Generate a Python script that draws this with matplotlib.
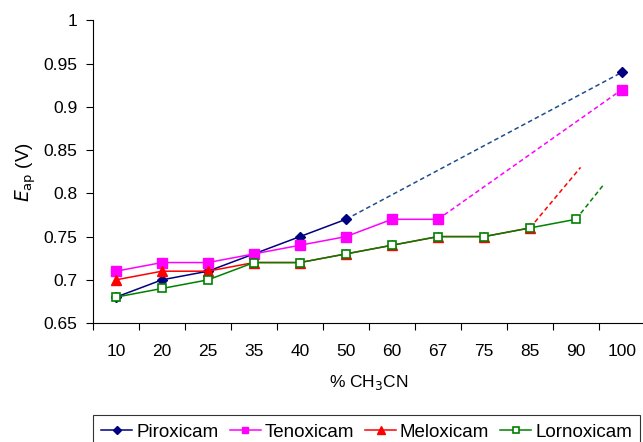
import matplotlib
matplotlib.use('Agg')
import matplotlib.pyplot as plt

plt.rcParams['font.family'] = ['Liberation Sans', 'DejaVu Sans']

# ── Data ──────────────────────────────────────────────────────────────────────
categories = ['10', '20', '25', '35', '40', '50', '60', '67', '75', '85', '90', '100']

piroxicam = [0.68, 0.70, 0.71, 0.73, 0.75, 0.77]
tenoxicam = [0.71, 0.72, 0.72, 0.73, 0.74, 0.75, 0.77, 0.77]
meloxicam = [0.70, 0.71, 0.71, 0.72, 0.72, 0.73, 0.74, 0.75, 0.75, 0.76]
lornoxicam = [0.68, 0.69, 0.70, 0.72, 0.72, 0.73, 0.74, 0.75, 0.75, 0.76, 0.77]

# points at 100 % CH3CN (joined by dashed lines)
piroxicam_100 = 0.94
tenoxicam_100 = 0.92
# dashed trend stubs that stop short (category position, value)
meloxicam_end = (10.1, 0.83)
lornoxicam_end = (10.6, 0.81)

# ── Plot ──────────────────────────────────────────────────────────────────────
fig = plt.figure(figsize=(6.43, 4.42), dpi=100)
ax = fig.add_axes([0.1446, 0.269, 0.8585, 0.685])

series = [
    ('Piroxicam', piroxicam, '#000080', dict(marker='D', markersize=5.5,
                                             markerfacecolor='#000080')),
    ('Tenoxicam', tenoxicam, '#FF00FF', dict(marker='s', markersize=6.5,
                                             markerfacecolor='#FF00FF')),
    ('Meloxicam', meloxicam, '#FF0000', dict(marker='^', markersize=7,
                                             markerfacecolor='#FF0000')),
    ('Lornoxicam', lornoxicam, '#008000', dict(marker='s', markersize=6,
                                               markerfacecolor='white',
                                               markeredgewidth=1.2)),
]

dash = (0, (3, 2))
last = len(categories) - 1
ax.plot([len(piroxicam) - 1, last], [piroxicam[-1], piroxicam_100],
        color='#1F4E8C', lw=1.1, ls=dash)
ax.plot([len(tenoxicam) - 1, last], [tenoxicam[-1], tenoxicam_100],
        color='#FF00FF', lw=1.1, ls=dash)
ax.plot([len(meloxicam) - 1, meloxicam_end[0]], [meloxicam[-1], meloxicam_end[1]],
        color='#FF0000', lw=1.1, ls=dash)
ax.plot([len(lornoxicam) - 1, lornoxicam_end[0]], [lornoxicam[-1], lornoxicam_end[1]],
        color='#008000', lw=1.1, ls=dash)

ax.plot([last], [piroxicam_100], marker='D', markersize=5.5, color='#000080', ls='none')
ax.plot([last], [tenoxicam_100], marker='s', markersize=6.5, color='#FF00FF', ls='none')

for name, vals, col, mk in series:
    ax.plot(range(len(vals)), vals, color=col, lw=1.1, label=name,
            markeredgecolor=col, **mk)

ax.set_xlim(-0.5, len(categories) - 0.5)
ax.set_ylim(0.65, 1.0)
ax.set_yticks([0.65, 0.7, 0.75, 0.8, 0.85, 0.9, 0.95, 1.0])
ax.set_yticklabels(['0.65', '0.7', '0.75', '0.8', '0.85', '0.9', '0.95', '1'])

# ticks between categories, labels centred on categories
ax.set_xticks([i - 0.5 for i in range(len(categories) + 1)])
ax.set_xticklabels([])
ax.set_xticks(range(len(categories)), minor=True)
ax.set_xticklabels(categories, minor=True)
ax.tick_params(axis='x', which='minor', length=0, pad=15, labelsize=12.5)
ax.tick_params(axis='x', which='major', length=5, direction='out')
ax.tick_params(axis='y', length=5, direction='out', labelsize=12.5, pad=6)

ax.spines['top'].set_visible(False)
ax.spines['right'].set_visible(False)

ax.set_xlabel('% CH$_3$CN', fontsize=12.5, labelpad=10)
ax.set_ylabel('$\\mathit{E}_{\\mathrm{ap}}$ (V)', fontsize=13.5, labelpad=4)

leg = fig.legend(loc='upper left', bbox_to_anchor=(93 / 643, 1 - 415 / 442),
                 ncol=4, fontsize=13.5, frameon=True, fancybox=False,
                 edgecolor='black', handlelength=1.65, handletextpad=0.2,
                 columnspacing=0.6, borderpad=0.45, borderaxespad=0,
                 markerscale=0.75)
leg.get_frame().set_linewidth(0.8)

fig.savefig('out.png', dpi=100)
